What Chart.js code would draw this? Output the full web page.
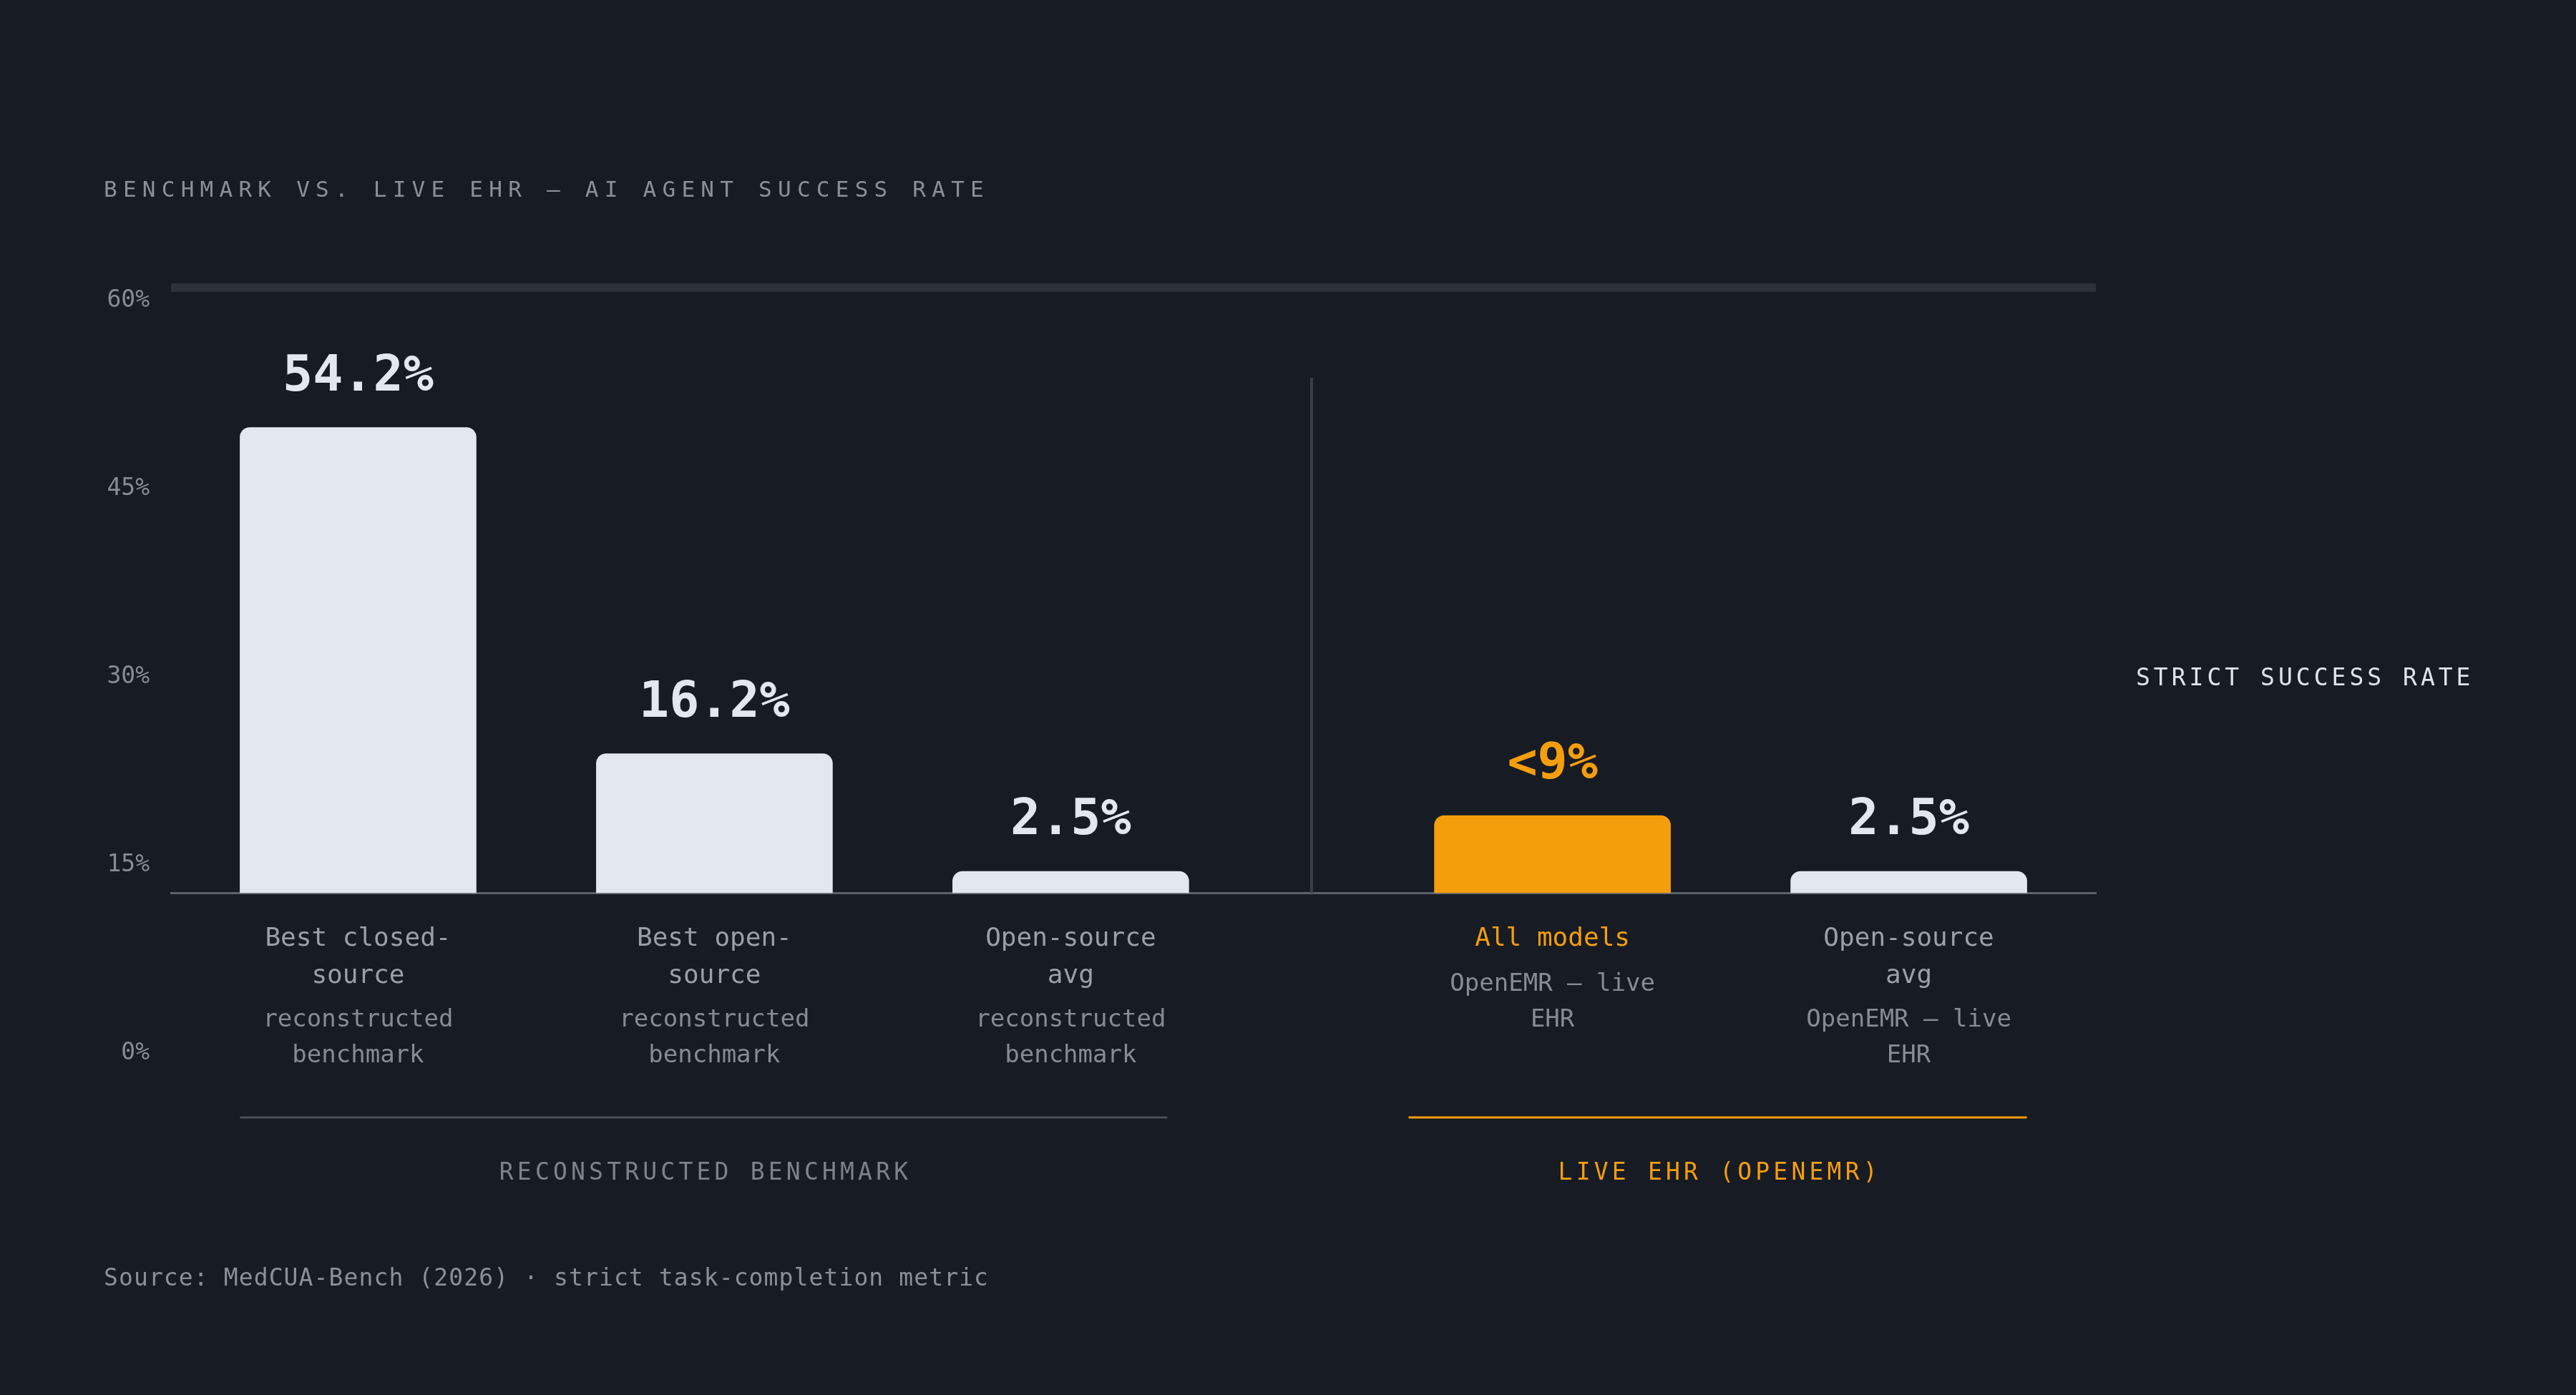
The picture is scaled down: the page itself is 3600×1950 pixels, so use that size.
<!DOCTYPE html>
<html>
<head>
<meta charset="utf-8">
<script src="https://cdn.jsdelivr.net/npm/chart.js@4.4.1/dist/chart.umd.min.js"></script>
<style>
  html, body { margin: 0; padding: 0; background: #171b23; }
  body { width: 3600px; height: 1950px; position: relative; overflow: hidden; font-family: 'DejaVu Sans Mono', monospace; }
  #wrap { position: absolute; left: 0; top: 0; width: 3600px; height: 1950px; }
  .t { position: absolute; white-space: nowrap; line-height: 1; }
  #title { left: 145px; top: 249px; font-size: 31px; letter-spacing: 8.25px; color: #8a9099; }
  #axisNote { left: 2985px; top: 930px; font-size: 33px; letter-spacing: 5.0px; color: #dfe4ec; }
  #source { left: 145px; top: 1769px; font-size: 33px; letter-spacing: 1.1px; color: #8a9099; }
</style>
</head>
<body>
<div id="wrap"><canvas id="chart"></canvas></div>
<div class="t" id="title">BENCHMARK VS. LIVE EHR — AI AGENT SUCCESS RATE</div>
<div class="t" id="axisNote">STRICT SUCCESS RATE</div>
<div class="t" id="source">Source: MedCUA-Bench (2026) · strict task-completion metric</div>
<script>
  // --- data ---
  const mainLabels = [["Best closed-", "source"], ["Best open-", "source"], ["Open-source", "avg"], ["All models"], ["Open-source", "avg"]];
  const subLabels = [["reconstructed", "benchmark"], ["reconstructed", "benchmark"], ["reconstructed", "benchmark"], ["OpenEMR — live", "EHR"], ["OpenEMR — live", "EHR"]];
  const successRate = [54.2, 16.2, 2.5, 9, 2.5];
  const valueLabels = ["54.2%", "16.2%", "2.5%", "<9%", "2.5%"];
  const groupOf = [0, 0, 0, 1, 1];
  const groupNames = ["RECONSTRUCTED BENCHMARK", "LIVE EHR (OPENEMR)"];
  const highlighted = [false, false, false, true, false];
  const yTicks = [0, 15, 30, 45, 60];

  // --- look ---
  const font = "'DejaVu Sans Mono', monospace";
  const barLight = "#e2e8f0";
  const orange = "#f59e0b";
  const track = "#2c313a";
  const divider = "#3a3f47";
  const baseline = "#5c626c";
  const mainGrey = "#9ba0a8";
  const subGrey = "#868b94";
  const groupGrey = "#7d828b";
  const groupRule = "#4a4f58";

  const GROUP_GAP = 0.352; // extra slot space between the two groups
  const X_PAD = 0.525;
  const BAR_W = 330;
  const RULE_PER_BAR = 432;

  // plot area in page pixels (set via layout padding)
  const AREA_TOP = 396, AREA_BOTTOM = 1700;
  function rangeFor(zeroPx, pxPerUnit) {
    return { min: -(AREA_BOTTOM - zeroPx) / pxPerUnit, max: (zeroPx - AREA_TOP) / pxPerUnit };
  }
  const tickRange = rangeFor(1472.5, 17.542); // the printed 0–60% ticks
  const barRange = rangeFor(1248, 12);        // the scale the bars sit on

  const xPos = successRate.map((_, i) => i + groupOf[i] * GROUP_GAP);
  const xMin = -X_PAD;
  const xMax = xPos[xPos.length - 1] + X_PAD;

  function setTicks(scale) {
    scale.ticks = xPos.map((v) => ({ value: v }));
  }

  const decorations = {
    id: "decorations",
    beforeDatasetsDraw(chart) {
      const { ctx, chartArea, scales } = chart;
      const x = scales.x, y2 = scales.y2;
      ctx.save();
      ctx.fillStyle = track;
      ctx.fillRect(chartArea.left, chartArea.top, chartArea.right - chartArea.left, 12);
      // divider between the two groups
      const lastA = groupOf.lastIndexOf(0), firstB = groupOf.indexOf(1);
      const mid = x.getPixelForValue((xPos[lastA] + xPos[firstB]) / 2);
      ctx.strokeStyle = divider;
      ctx.lineWidth = 4;
      ctx.beginPath();
      ctx.moveTo(mid, y2.getPixelForValue(0));
      ctx.lineTo(mid, y2.getPixelForValue(60));
      ctx.stroke();
      ctx.restore();
    },
    afterDatasetsDraw(chart) {
      const { ctx, scales } = chart;
      const x = scales.x, y2 = scales.y2;
      const meta = chart.getDatasetMeta(0);
      ctx.save();
      ctx.textAlign = "center";
      ctx.textBaseline = "alphabetic";
      ctx.font = "bold 70px " + font;
      meta.data.forEach((bar, i) => {
        ctx.fillStyle = highlighted[i] ? orange : barLight;
        ctx.fillText(valueLabels[i], bar.x, bar.y - 52);
      });

      // group rules + names
      const zero = y2.getPixelForValue(0);
      groupNames.forEach((name, g) => {
        const idx = groupOf.map((v, i) => (v === g ? i : -1)).filter((i) => i >= 0);
        const n = idx.length;
        let x0, x1;
        if (g === 0) {
          x0 = x.getPixelForValue(xPos[idx[0]]) - BAR_W / 2;
          x1 = x0 + n * RULE_PER_BAR;
        } else {
          x1 = x.getPixelForValue(xPos[idx[n - 1]]) + BAR_W / 2;
          x0 = x1 - n * RULE_PER_BAR;
        }
        const live = idx.some((i) => highlighted[i]);
        ctx.strokeStyle = live ? orange : groupRule;
        ctx.lineWidth = 3;
        ctx.beginPath();
        ctx.moveTo(x0, zero + 314);
        ctx.lineTo(x1, zero + 314);
        ctx.stroke();

        ctx.font = "33px " + font;
        ctx.letterSpacing = "5.2px";
        ctx.fillStyle = live ? orange : groupGrey;
        ctx.fillText(name, (x0 + x1) / 2 + 2.6, zero + 401);
        ctx.letterSpacing = "0px";
      });
      ctx.restore();
    },
  };

  Chart.defaults.font.family = font;

  new Chart(document.getElementById("chart"), {
    type: "bar",
    data: {
      datasets: [
        {
          data: successRate.map((v, i) => ({ x: xPos[i], y: v })),
          backgroundColor: highlighted.map((h) => (h ? orange : barLight)),
          borderRadius: 14,
          borderSkipped: "start",
          barThickness: BAR_W,
          xAxisID: "x",
          yAxisID: "y2",
        },
      ],
    },
    options: {
      responsive: true,
      maintainAspectRatio: false,
      animation: false,
      events: [],
      layout: { padding: { left: 0, right: 3600 - 2929, top: AREA_TOP, bottom: 1950 - AREA_BOTTOM } },
      plugins: { legend: { display: false }, tooltip: { enabled: false } },
      scales: {
        y: {
          type: "linear",
          position: "left",
          min: tickRange.min,
          max: tickRange.max,
          afterBuildTicks: (s) => { s.ticks = yTicks.map((v) => ({ value: v })); },
          afterFit: (s) => { s.width = 239; },
          grid: { display: false, drawTicks: false },
          border: { display: false },
          ticks: { color: subGrey, padding: 30, font: { size: 33 }, callback: (v) => v + "%" },
        },
        y2: {
          type: "linear",
          display: false,
          min: barRange.min,
          max: barRange.max,
        },
        x: {
          type: "linear",
          position: { y2: 0 },
          offset: false,
          min: xMin,
          max: xMax,
          afterBuildTicks: setTicks,
          grid: { display: false, drawTicks: false, offset: false },
          border: { display: true, color: baseline, width: 3 },
          ticks: {
            autoSkip: false,
            maxRotation: 0,
            minRotation: 0,
            padding: 38.5,
            font: { size: 36, lineHeight: "52px" },
            color: (c) => (highlighted[c.index] ? orange : mainGrey),
            callback: (v, i) => mainLabels[i],
          },
        },
        xSub: {
          type: "linear",
          position: { y2: 0 },
          offset: false,
          min: xMin,
          max: xMax,
          afterBuildTicks: setTicks,
          grid: { display: false, drawTicks: false, offset: false },
          border: { display: false },
          ticks: {
            autoSkip: false,
            maxRotation: 0,
            minRotation: 0,
            padding: 102.7,
            font: { size: 34, lineHeight: "50px" },
            color: subGrey,
            // sub lines start right after the main label block
            callback: (v, i) => new Array(mainLabels[i].length - 1).fill("").concat(subLabels[i]),
          },
        },
      },
    },
    plugins: [decorations],
  });
</script>
</body>
</html>
